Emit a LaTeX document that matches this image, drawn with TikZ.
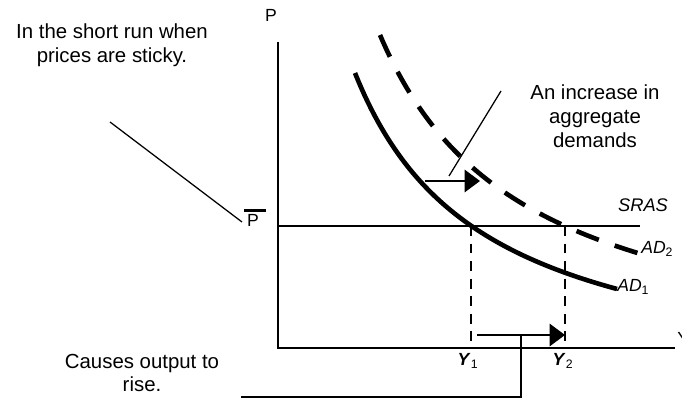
\documentclass[tikz,border=0pt]{standalone}
\usepackage{fontspec}
\setmainfont{Liberation Sans}
\usetikzlibrary{arrows.meta}

\tikzset{
  axisline/.style={line width=1.4pt},
  adcurve/.style={line width=3.3pt},
  guide/.style={line width=1.4pt, dash pattern=on 7pt off 5.5pt},
  leader/.style={line width=0.9pt},
  movearrow/.style={line width=1.4pt, -{Triangle[length=11pt,width=16pt]}},
  note/.style={align=center, inner sep=0pt, font=\fontsize{14.5}{17}\selectfont},
  lab/.style={inner sep=0pt, font=\fontsize{12.5}{14}\selectfont}
}

\begin{document}
\begin{tikzpicture}[x=0.025cm, y=-0.025cm]
                    \useasboundingbox (0,0) rectangle (682,398);
                    % Nodes
                    \node[note] (sticky) at (112,45) {In the short run when\\prices are sticky.};
                    \node[note] (rise) at (142,373) {Causes output to\\rise.};
                    \node[note] (increase) at (595,116) {An increase in\\aggregate\\demands};
                    \node[lab] (P) at (271,15) {P};
                    \node[lab] (pbar) at (253,220) {P};
                    \node[lab] (Yend) [anchor=west] at (677,338) {Y};
                    \node[lab, font=\fontsize{13}{15}\itshape] (sras) at (643,205) {SRAS};
                    \node[lab, anchor=west] (ad1) at (617,287) {\textit{AD}\textsubscript{1}};
                    \node[lab, anchor=west] (ad2) at (641,249) {\textit{AD}\textsubscript{2}};
                    \node[lab] (y1) at (468,361) {\textbf{\textit{Y}}\textsubscript{1}};
                    \node[lab] (y2) at (563,361) {\textbf{\textit{Y}}\textsubscript{2}};
                    \coordinate (origin) at (278,348);
                    \coordinate (ptop) at (278,42);
                    \coordinate (yright) at (675,348);
                    \coordinate (e1) at (471,226);
                    \coordinate (e2) at (565,226);
                    \coordinate (srasend) at (640,226);
                    \coordinate (upstart) at (425,181);
                    \coordinate (upend) at (480,181);
                    \coordinate (lowstart) at (477,335);
                    \coordinate (lowend) at (565,335);
                    \coordinate (lowjoin) at (521,335);
                    \coordinate (lowcorner) at (521,397);
                    \coordinate (lowleft) at (241,397);
                    \coordinate (upfoot) at (449,176);
                    \coordinate (uphead) at (501,91);
                    \coordinate (stickyend) at (110,122);
                    \coordinate (pbarend) at (242,222);
                    % Axes and price level
                    \draw[axisline] (ptop) -- (origin) -- (yright);
                    \draw[axisline] (origin |- e1) -- (srasend);
                    \draw[line width=1.6pt] ([xshift=-2pt, yshift=2.2pt]pbar.north west) -- ++(22,0);
                    % Demand curves
                    \draw[adcurve] plot[domain=355:617, samples=80] (\x, {395.1-414.55/((\x-226.3)/100)});
                    \draw[adcurve, dash pattern=on 17pt off 12pt] plot[domain=380:640, samples=80] (\x, {376.1-496.28/((\x-234.5)/100)});
                    % Output levels
                    \draw[guide] (e1) -- (e1 |- origin);
                    \draw[guide] (e2) -- (e2 |- origin);
                    % Shifts
                    \draw[movearrow] (upstart) -- (upend);
                    \draw[movearrow] (lowstart) -- (lowend);
                    % Leaders
                    \draw[leader] (upfoot) -- (uphead);
                    \draw[leader] (lowjoin) -- (lowcorner) -- (lowleft);
                    \draw[leader] (stickyend) -- (pbarend);
                \end{tikzpicture}
\end{document}
